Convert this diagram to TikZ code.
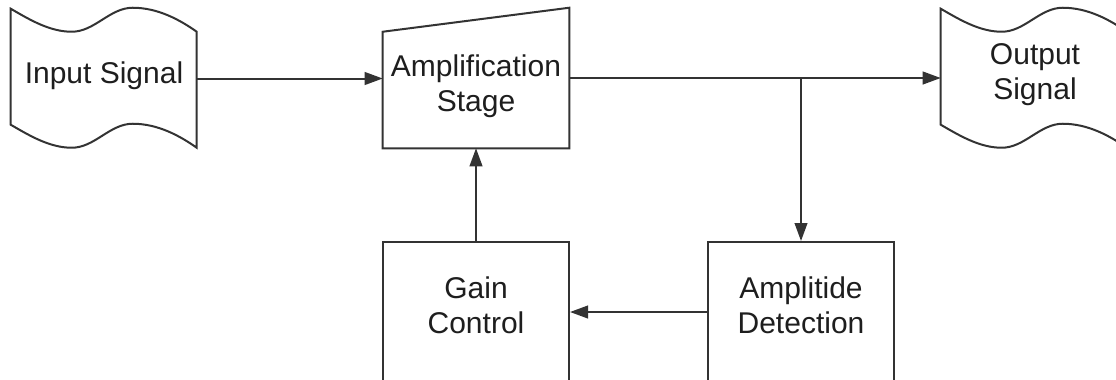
\documentclass[tikz,border=0pt]{standalone}
\usepackage{fontspec}
\setmainfont{Liberation Sans}
\usetikzlibrary{arrows.meta}

\definecolor{linegray}{HTML}{333333}
\definecolor{textgray}{HTML}{1E1E1E}

\tikzset{
  outline/.style={draw=linegray, line width=1.5pt, line join=miter},
  arr/.style={draw=linegray, line width=1.5pt,
    -{Triangle[length=13.5pt, width=9.5pt]}},
  area/.style={draw=none, rectangle, inner sep=0pt,
    minimum width=186\pxu, minimum height=140\pxu},
  boxblock/.style={area, outline},
  lbl/.style={inner sep=0pt, align=center, text=textgray,
    font=\fontsize{22.5pt}{26.25pt}\selectfont},
  % punched-tape outline, placed at the block's north-west corner
  tapeoutline/.pic={
    \draw[outline] (0,0) .. controls (19,11) and (39,23) .. (61,23)
      .. controls (84,23) and (99,-1) .. (122,-1)
      .. controls (147,-1) and (169,11) .. (186,23)
      -- (186,139)
      .. controls (169,127) and (147,115) .. (122,115)
      .. controls (99,115) and (84,139) .. (61,139)
      .. controls (39,139) and (19,127) .. (0,116) -- cycle;
  },
}
\newlength{\pxu}
\setlength{\pxu}{0.75pt}

\begin{document}
\begin{tikzpicture}[x=0.75pt, y=-0.75pt]
  \useasboundingbox (0,0) rectangle (1116,379);
  \clip (0,0) rectangle (1116,379);

  % block areas
  \node[area, minimum height=139\pxu] (inp) at (104,78.5) {};
  \node[area] (amp) at (476,78) {};
  \node[area, minimum height=139\pxu] (out) at (1034,78.5) {};
  \node[boxblock] (gain) at (476,312) {};
  \node[boxblock] (adet) at (801,312) {};

  % outlines of the non-rectangular blocks
  \pic at (inp.north west) {tapeoutline};
  \pic at (out.north west) {tapeoutline};
  \draw[outline] (amp.south west) -- ([shift={(0,24)}]amp.north west)
    -- (amp.north east) -- (amp.south east) -- cycle;

  % labels
  \node[lbl] (inp-t) at (104,75.3) {Input Signal};
  \node[lbl] (amp-t) at (476,86.7) {Amplification\\Stage};
  \node[lbl] (out-t) at (1035,75) {Output\\Signal};
  \node[lbl] (gain-t) at (476,305.5) {Gain\\Control};
  \node[lbl] (adet-t) at (801,305.5) {Amplitide\\Detection};

  % signal path
  \coordinate (tap) at (amp.east -| adet.north);
  \draw[arr] (inp.east) -- (inp.east -| amp.west);
  \draw[arr] (amp.east) -- (amp.east -| out.west);
  \draw[arr] (tap) -- (adet.north);
  \draw[arr] (adet.west) -- (gain.east);
  \draw[arr] (gain.north) -- (amp.south);
\end{tikzpicture}
\end{document}
